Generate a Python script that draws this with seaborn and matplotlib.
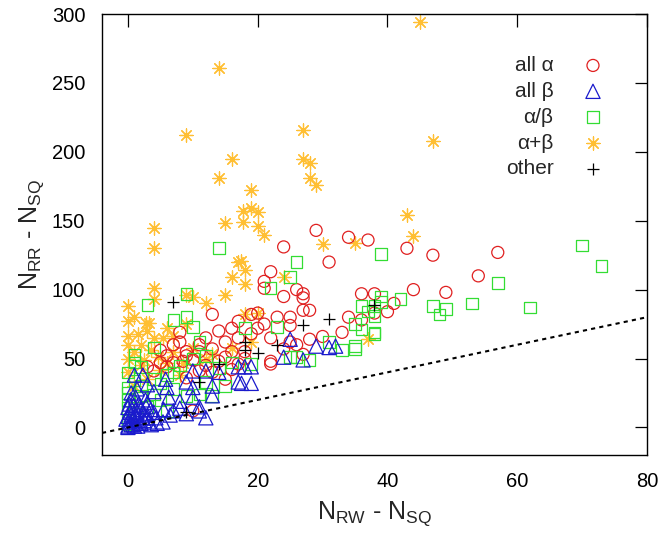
import matplotlib
matplotlib.use("Agg")
import matplotlib.pyplot as plt
import seaborn as sns
import pandas as pd

# ---- data ----
alpha_x = [29, 34, 37, 24, 31, 22, 21, 21, 26, 24, 27, 27, 27, 28, 13, 25, 23, 20, 19, 17,
           21, 16, 20, 25, 22, 8, 7, 9, 11, 13, 15, 15, 18, 22, 22, 24, 27, 5, 7, 8.5,
           10, 4, 11, 13, 15, 36, 38, 34, 33, 36, 10, 43, 47, 57, 54, 44, 49, 41, 40, 17,
           19, 12, 14, 6, 3, 9, 17, 25, 30, 12, 16, 26, 38, 28, 6, 9, 11, 14, 16, 18, 5, 8]
alpha_y = [143, 138, 136, 131, 120, 113, 106, 101, 100, 95, 97, 94, 85, 85, 82, 80, 80, 83, 82, 77,
           75, 72, 72, 74, 65, 69, 60, 55, 60, 57, 62, 51, 55, 48, 46, 57, 53, 47, 47, 48,
           49, 41, 41, 40, 35, 97, 97, 80, 69, 78, 12, 130, 125, 127, 110, 100, 98, 90, 84, 65,
           68, 65, 70, 52, 44, 36, 46, 62, 66, 45, 42, 60, 83, 64, 44, 52, 55, 48, 55, 50, 56, 62]

beta_x = [25, 29, 31, 32, 24, 27, 19, 17, 18, 17, 17.5, 19, 14, 12, 10, 1, 2.3, 3, 5.8, 9,
          10, 6, 4, 6.3, 8, 13, 11, 11, 7, 1.2, 5.5, 3.5, 0, 0.5, -0.3, 0.8, 2.3, 3.2, 4.3, 5.4,
          0, 1, 2, 0.3, 1.5, 2.5, 0.2, 1.8, 3, 4, 6.5, 8, 9, 12, 10, 13, 3, 0.5, 1.4, 2.7,
          0, 0.5, 1, 1.5, 2, 2.5, 0, 0.7, 1.2, 0.3, 2, 3, 3.6, 4.5, 1.7, 0.4, 0.9, 0.1, 1.4, 2.8]
beta_y = [64, 59, 58, 59, 51, 49, 44, 44, 44, 33, 32, 32, 40, 41, 41, 38, 38, 31, 35, 33,
          29, 29, 26, 22, 19, 23, 15, 12, 12, 22, 13, 13, 14.5, 9, 6, 2, 7, 4, 7, 4,
          0, 1, 3, 11, 5, 10, 17, 15, 9, 11, 9, 14, 10, 7, 22, 30, 18, 25, 28, 20,
          1, 2, 4, 1, 3, 5, 8, 6, 9, 12, 13, 7, 2, 3, 17, 20, 16, 4, 11, 15]

ab_x = [14, 26, 25, 22, 3, 9, 7, 9, 10, 11, 4, 1, 1, 18, 23, 39, 36, 37, 38, 39,
        35, 36, 38, 31, 33, 35, 35, 25, 26, 28, 6, 0, 2, 7, 9, 11, 14, 57, 70, 73,
        62, 53, 47, 48, 49, 42, 39, 38, 38, 12, 13, 0, 0, 1, 0, 0, 2, 4, 3, 5,
        8, 10, 0, 2, 5, 7, 15, 12, 16, 19, 0, 1, 6, 4]
ab_y = [130, 120, 109, 101, 89, 97, 78, 80, 73, 62, 58, 53, 47, 72, 73, 126, 88, 84, 88, 91,
        75, 71, 69, 62, 56, 59, 57, 51, 51, 49, 38, 29, 23, 28, 23, 24, 43, 105, 132, 117,
        87, 90, 88, 82, 86, 93, 95, 81, 68, 33, 23, 20, 14, 10, 5, 2, 30, 35, 15, 20,
        45, 50, 40, 44, 32, 40, 30, 52, 47, 46, 25, 34, 12, 24]

apb_x = [45, 14, 9, 27, 16, 27, 28, 28, 14, 29, 19, 47, 43, 17.8, 19, 20, 17.8, 15, 20, 21,
         4, 4, 30, 35, 44, 17, 17.5, 18, 16, 18, 24, 4, 4, 1, 0, 2.8, 3.2, 9, 10, 12,
         15, 0, 0, 4, 5.4, 7, 18, 20, 13, 0, 37, 2.5, 4.6, 6, 8.5, 1, 0, 2, 3, 1,
         5, 7, 10, 12, 16, 19, 8, 2, 3, 6, 9, 0, 1.5, 3.5]
apb_y = [294, 261, 212, 216, 195, 195, 192, 181, 181, 176, 172, 208, 154, 157, 159, 156, 149, 148, 146, 140,
         145, 130, 133, 134, 139, 120, 121, 114, 109, 104, 109, 101, 93, 80, 77, 76, 76, 96, 95, 90,
         96, 66, 60, 65, 65, 66, 82, 83, 53, 40, 64, 49, 51, 47, 47, 55, 50, 45, 35, 30,
         42, 55, 58, 50, 58, 62, 38, 60, 70, 72, 75, 88, 68, 56]

other_x = [7, 31, 27, 18, 18, 20, 23, 14, 38, 9, 11]
other_y = [91, 79, 74, 62, 56, 54, 60, 46, 89, 11, 33]

labels = ["all \u03b1", "all \u03b2", "\u03b1/\u03b2", "\u03b1+\u03b2", "other"]

# ---- style ----
sns.set_style("white")
plt.rcParams["font.family"] = ["Liberation Sans", "DejaVu Sans"]
plt.rcParams["mathtext.default"] = "regular"

fig = plt.figure(figsize=(6.64, 5.37), dpi=100)
ax = fig.add_axes([0.1536, 0.1527, 0.8208, 0.8212])

series = [
    # (x, y, label, marker, color, size, filled?)
    (apb_x, apb_y, labels[3], (8, 2, 0), "#ffbf33", 90, False),
    (alpha_x, alpha_y, labels[0], "o", "#e02020", 75, True),
    (ab_x, ab_y, labels[2], "s", "#33dd33", 70, True),
    (beta_x, beta_y, labels[1], "^", "#1a1acc", 105, True),
    (other_x, other_y, labels[4], "+", "#000000", 80, False),
]

handles = {}
for xs, ys, lab, mk, col, sz, filled in series:
    df = pd.DataFrame({"x": xs, "y": ys})
    sns.scatterplot(data=df, x="x", y="y", ax=ax, marker=mk, s=sz,
                    color=col, label=lab, legend=False)
    coll = ax.collections[-1]
    if filled:
        coll.set_facecolor("none")
    coll.set_edgecolor(col)
    coll.set_linewidth(0.9)
    coll.set_label(lab)
    handles[lab] = coll

# reference diagonal y = x
ax.axline((0, 0), slope=1, color="black", lw=1.5, ls=(0, (2.0, 2.0)), zorder=1)

ax.set_xlim(-4, 80)
ax.set_ylim(-20, 300)
ax.set_xticks([0, 20, 40, 60, 80])
ax.set_yticks([0, 50, 100, 150, 200, 250, 300])
ax.tick_params(direction="in", length=9, width=0.9, top=True, right=True,
               labelsize=14.5, pad=12, colors="black")
ax.tick_params(axis="x", pad=12)
for sp in ax.spines.values():
    sp.set_color("black")
    sp.set_linewidth(1.0)

ax.set_xlabel("N$_{RW}$ - N$_{SQ}$", fontsize=18, labelpad=6)
ax.set_ylabel("N$_{RR}$ - N$_{SQ}$", fontsize=18, labelpad=4)

leg = ax.legend([handles[l] for l in labels], labels, loc="upper right",
                bbox_to_anchor=(0.92, 0.905), frameon=False, markerfirst=False,
                fontsize=15, handlelength=1.0, handletextpad=1.4,
                labelspacing=0.33, borderpad=0, borderaxespad=0)

fig.savefig("out.png", dpi=100)
